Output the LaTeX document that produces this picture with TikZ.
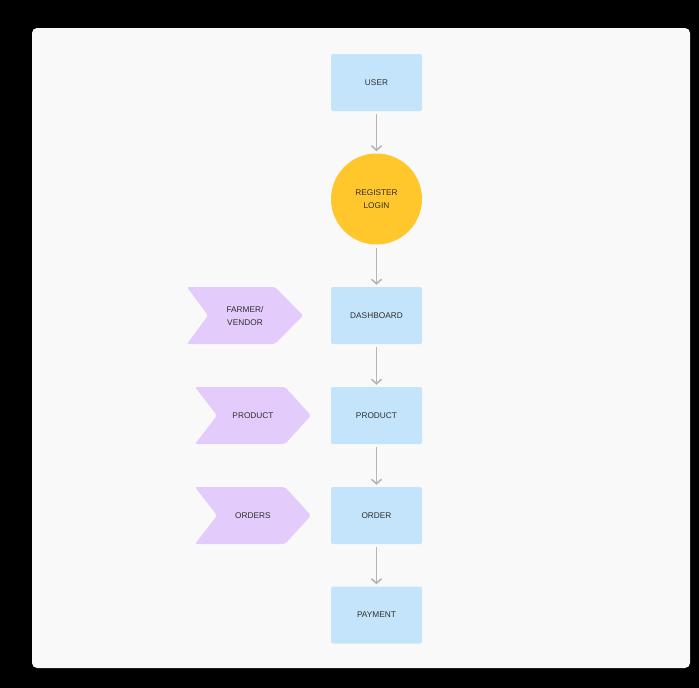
\documentclass[tikz,border=0pt]{standalone}
\usepackage{fontspec}
\setmainfont{Liberation Sans}
\usetikzlibrary{arrows.meta}
\definecolor{panel}{HTML}{F9F9F9}
\definecolor{boxblue}{HTML}{C4E4FB}
\definecolor{yel}{HTML}{FFC72C}
\definecolor{purp}{HTML}{E3CCFB}
\definecolor{txt}{HTML}{2E2E2E}
\definecolor{arrgray}{HTML}{B5B5B5}
\tikzset{
  lbl/.style={font=\fontsize{8.3}{13}\selectfont, text=txt, align=center, inner sep=0pt},
  bluebox/.style={fill=boxblue, rounded corners=2pt, minimum width=91pt, minimum height=57pt, lbl},
  yelcirc/.style={circle, fill=yel, minimum size=91pt, lbl},
  chev/.style={fill=purp, rounded corners=2pt},
  arr/.style={draw=arrgray, line width=1.8pt, -{Straight Barb[length=4.5pt,width=10pt,line width=1.6pt]}, shorten <=3pt, shorten >=2pt}
}
\begin{document}
\begin{tikzpicture}[x=1pt,y=-1pt]
\useasboundingbox (0,0) rectangle (699,688);
\fill[black] (0,0) rectangle (699,688);
\fill[panel, rounded corners=5pt] (32,28) rectangle (690,668);

\node[bluebox] (user) at (376.5,82.5) {USER};
\node[yelcirc] (reg) at (376.5,199) {REGISTER\\LOGIN};
\node[bluebox] (dash) at (376.5,315.5) {DASHBOARD};
\node[bluebox] (prod) at (376.5,415.5) {PRODUCT};
\node[bluebox] (ord) at (376.5,515.5) {ORDER};
\node[bluebox] (pay) at (376.5,615) {PAYMENT};

\fill[chev] (187,287) -- (275,287) -- (303,315.5) -- (275,344) -- (187,344) -- (208,315.5) -- cycle;
\node[lbl] (farmer) at (245,316) {FARMER/\\VENDOR};
\fill[chev] (195,387) -- (285,387) -- (311,415.5) -- (285,444) -- (195,444) -- (217,415.5) -- cycle;
\node[lbl] (cprod) at (253,415.5) {PRODUCT};
\fill[chev] (195,487) -- (285,487) -- (311,515.5) -- (285,544) -- (195,544) -- (217,515.5) -- cycle;
\node[lbl] (cord) at (253,515.5) {ORDERS};

\draw[arr] (user) -- (reg);
\draw[arr] (reg) -- (dash);
\draw[arr] (dash) -- (prod);
\draw[arr] (prod) -- (ord);
\draw[arr] (ord) -- (pay);
\end{tikzpicture}
\end{document}
